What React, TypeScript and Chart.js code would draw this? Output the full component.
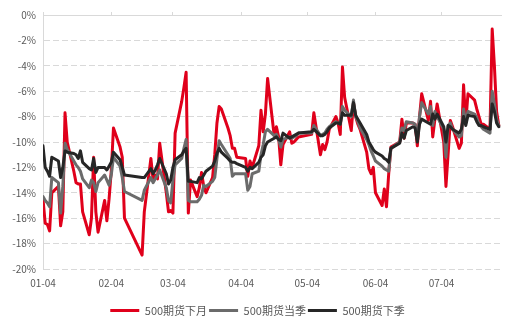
import React, { useEffect, useRef } from 'react';
import { Chart, registerables } from 'chart.js';

Chart.register(...registerables);

const YEAR = 2021;

// trading days (MM-DD), 2021
const tradeDates = [
  '01-04','01-05','01-06','01-07','01-08','01-11','01-12','01-13','01-14','01-15','01-18','01-19','01-20','01-21','01-22','01-25','01-26','01-27','01-28','01-29',
  '02-01','02-02','02-03','02-04','02-05','02-08','02-09','02-10','02-18','02-19','02-22','02-23','02-24','02-25','02-26',
  '03-01','03-02','03-03','03-04','03-05','03-08','03-09','03-10','03-11','03-12','03-15','03-16','03-17','03-18','03-19','03-22','03-23','03-24','03-25','03-26','03-29','03-30','03-31',
  '04-01','04-02','04-06','04-07','04-08','04-09','04-12','04-13','04-14','04-15','04-16','04-19','04-20','04-21','04-22','04-23','04-26','04-27','04-28','04-29','04-30',
  '05-06','05-07','05-10','05-11','05-12','05-13','05-14','05-17','05-18','05-19','05-20','05-21','05-24','05-25','05-26','05-27','05-28','05-31',
  '06-01','06-02','06-03','06-04','06-07','06-08','06-09','06-10','06-11','06-15','06-16','06-17','06-18','06-21','06-22','06-23','06-24','06-25','06-28','06-29','06-30',
  '07-01','07-02','07-05','07-06','07-07','07-08','07-09','07-12','07-13','07-14','07-15','07-16','07-19','07-20','07-21','07-22','07-23','07-26','07-27','07-28','07-29','07-30',
];

// 500期货下月 (%)
const nextMonth = [
  -14.5,-16.4,-16.5,-17.0,-14.0,-13.5,-16.6,-15.5,-7.7,-10.0,-12.3,-13.2,-13.3,-13.3,-15.5,-17.3,-16.0,-11.2,-15.5,-17.1,
  -14.6,-16.2,-14.5,-12.3,-8.9,-10.4,-11.2,-16.0,-18.9,-15.5,-11.3,-13.0,-12.6,-12.9,-10.1,
  -14.0,-15.5,-15.4,-15.6,-9.3,-6.8,-5.7,-4.5,-15.6,-13.0,-14.3,-13.6,-12.4,-13.5,-14.0,-12.8,-11.0,-8.5,-7.2,-7.4,-8.9,-9.5,-10.5,
  -10.5,-11.2,-11.3,-12.7,-11.5,-12.0,-10.3,-7.5,-9.2,-7.8,-5.0,-9.5,-8.8,-9.6,-11.8,-10.2,-9.2,-10.1,-10.0,-9.8,-9.6,
  -9.4,-7.7,-11.0,-10.2,-10.6,-10.0,-9.0,-8.0,-8.5,-9.4,-4.1,-6.5,-9.1,-6.9,-8.0,-8.6,-9.0,-10.8,
  -12.1,-12.5,-12.0,-14.0,-15.0,-13.7,-15.1,-12.5,-10.4,-10.0,-8.2,-9.7,-8.5,-8.5,-8.6,-10.3,-8.0,-6.2,-8.3,-6.8,-9.6,
  -8.2,-7.0,-10.0,-13.5,-10.9,-8.3,-8.8,-10.5,-10.1,-5.5,-8.5,-6.2,-6.7,-7.4,-8.0,-8.6,-8.6,-9.0,-1.1,-4.0,-7.6,-8.7,
];

// 500期货当季 (%)
const curQuarter = [
  -14.3,-14.6,-14.8,-15.1,-12.8,-13.2,-15.6,-13.5,-10.1,-10.6,-11.5,-11.8,-12.0,-12.3,-12.9,-13.6,-13.0,-13.2,-13.9,-13.2,
  -12.6,-13.0,-13.4,-12.6,-11.2,-11.9,-12.8,-13.9,-14.6,-13.8,-12.8,-13.2,-12.9,-12.6,-12.2,
  -13.6,-14.6,-14.8,-13.0,-11.8,-11.3,-10.5,-9.8,-14.6,-14.7,-14.7,-14.5,-14.2,-13.4,-13.5,-13.1,-12.8,-11.3,-9.9,-10.2,-11.0,-11.3,-12.7,
  -12.5,-12.5,-12.5,-13.8,-13.5,-12.5,-12.3,-11.0,-10.2,-9.2,-9.0,-9.5,-9.4,-9.8,-10.4,-9.8,-9.6,-9.7,-9.6,-9.5,-9.3,
  -9.3,-8.7,-9.5,-9.4,-9.3,-9.0,-8.8,-8.4,-8.5,-8.6,-7.2,-7.5,-8.0,-6.7,-8.0,-8.4,-8.9,-9.8,
  -10.2,-10.7,-11.1,-11.5,-11.9,-12.1,-12.2,-12.3,-10.5,-10.0,-8.9,-9.1,-8.4,-8.5,-8.6,-9.8,-8.0,-6.9,-7.8,-7.2,-8.7,
  -7.6,-8.0,-9.0,-11.2,-8.7,-8.5,-9.0,-9.6,-9.5,-7.4,-8.5,-7.6,-7.8,-8.1,-8.6,-8.8,-9.0,-9.3,-6.0,-7.0,-8.2,-8.7,
];

// 500期货下季 (%)
const nextQuarter = [
  -10.3,-12.0,-12.3,-12.7,-11.2,-11.5,-12.8,-12.0,-10.7,-10.8,-10.9,-11.0,-11.3,-10.7,-11.6,-12.1,-12.2,-11.3,-12.4,-12.0,
  -12.0,-12.2,-11.9,-11.6,-10.8,-11.4,-12.0,-12.6,-12.8,-12.8,-12.1,-12.5,-12.2,-11.8,-11.3,
  -12.5,-13.3,-13.0,-12.0,-11.4,-11.0,-10.7,-10.5,-13.1,-13.1,-13.2,-12.8,-12.9,-12.6,-12.3,-11.9,-11.5,-10.9,-10.5,-10.8,-11.3,-11.5,-11.6,
  -11.6,-11.7,-12.0,-12.3,-12.0,-12.1,-11.6,-11.2,-11.0,-10.3,-10.0,-9.7,-9.6,-9.8,-9.9,-9.3,-9.7,-9.6,-9.5,-9.4,-9.3,
  -9.2,-9.0,-9.5,-9.5,-9.4,-9.2,-8.9,-8.5,-8.5,-8.6,-7.7,-7.9,-7.9,-6.9,-7.9,-8.2,-8.5,-9.4,
  -10.0,-10.3,-10.6,-10.8,-11.1,-11.3,-11.4,-11.6,-10.5,-10.1,-9.3,-9.7,-9.1,-8.8,-8.9,-10.0,-8.6,-8.2,-8.5,-8.6,-7.8,
  -8.2,-7.8,-8.8,-10.0,-8.7,-8.8,-9.0,-9.3,-9.0,-8.0,-8.7,-7.9,-8.0,-8.4,-8.7,-8.7,-8.8,-9.0,-7.0,-7.6,-8.5,-8.8,
];

const seriesNames = ['500期货下月', '500期货当季', '500期货下季'];
const seriesColors = ['#e0001b', '#6b6b6b', '#262626'];

const xTickDates = ['01-04', '02-04', '03-04', '04-04', '05-04', '06-04', '07-04'];
const xStart = '01-04';
const xEnd = '07-31';
const yMin = -20;
const yMax = 0;
const yStep = 2;

const dayIndex = (mmdd: string) => {
  const [m, d] = mmdd.split('-').map(Number);
  return (Date.UTC(YEAR, m - 1, d) - Date.UTC(YEAR, 0, 4)) / 86400000;
};

const FONT = "'Noto Sans CJK SC', 'Noto Sans', sans-serif";
const TEXT = '#595959';
const GRID = '#d9d9d9';

export default function App() {
  const ref = useRef<HTMLCanvasElement | null>(null);

  useEffect(() => {
    document.body.style.margin = '0';
    const canvas = ref.current;
    if (!canvas) return;
    const seriesValues = [nextMonth, curQuarter, nextQuarter];
    const tickValues = xTickDates.map(dayIndex);
    const setTicks = (scale: any) => {
      scale.ticks = tickValues.map((v) => ({ value: v }));
    };
    const chart = new Chart(canvas, {
      type: 'line',
      data: {
        datasets: seriesValues.map((vals, i) => ({
          label: seriesNames[i],
          data: vals.map((v, j) => ({ x: dayIndex(tradeDates[j]), y: v })),
          borderColor: seriesColors[i],
          backgroundColor: seriesColors[i],
          borderWidth: 3,
          pointRadius: 0,
          tension: 0,
          borderJoinStyle: 'round' as const,
          borderCapStyle: 'round' as const,
          order: 3 - i,
        })),
      },
      options: {
        animation: false,
        responsive: false,
        events: [],
        layout: { padding: { left: 0, right: 0, top: 0, bottom: 3 } },
        plugins: {
          tooltip: { enabled: false },
          legend: {
            position: 'bottom',
            labels: {
              boxWidth: 29,
              boxHeight: 3,
              padding: 2,
              color: TEXT,
              font: { family: FONT, size: 11 },
              sort: (a: any, b: any) => a.datasetIndex - b.datasetIndex,
              generateLabels: (ch: any) =>
                ch.data.datasets.map((ds: any, i: number) => ({
                  text: ds.label,
                  fillStyle: ds.borderColor,
                  strokeStyle: ds.borderColor,
                  lineWidth: 0,
                  fontColor: TEXT,
                  datasetIndex: i,
                  hidden: false,
                })),
            },
          },
        },
        scales: {
          x: {
            type: 'linear',
            position: 'bottom',
            min: dayIndex(xStart),
            max: dayIndex(xEnd),
            afterBuildTicks: setTicks,
            afterFit: (s: any) => { s.height = 34; },
            grid: { display: false, drawTicks: false },
            border: { display: false },
            ticks: {
              padding: 8,
              color: TEXT,
              font: { family: FONT, size: 10 },
              maxRotation: 0,
              autoSkip: false,
              callback: (_v: any, i: number) => xTickDates[i],
            },
          },
          x2: {
            type: 'linear',
            axis: 'x',
            position: 'top',
            min: dayIndex(xStart),
            max: dayIndex(xEnd),
            afterBuildTicks: setTicks,
            afterFit: (s: any) => { s.height = 15; },
            grid: { drawOnChartArea: false, drawTicks: true, tickLength: 3, color: GRID },
            border: { display: true, color: GRID, width: 1 },
            ticks: { display: false },
          },
          y: {
            position: 'left',
            min: yMin,
            max: yMax,
            afterFit: (s: any) => { s.width = 43; },
            ticks: {
              stepSize: yStep,
              padding: 7,
              color: TEXT,
              font: { family: FONT, size: 10 },
              callback: (v: any) => `${v}%`,
            },
            grid: {
              drawTicks: false,
              color: (c: any) => (c.tick && c.tick.value === 0 ? 'rgba(0,0,0,0)' : GRID),
              lineWidth: 1,
            },
            border: { display: true, color: GRID, width: 1, dash: [6, 3] },
          },
          y2: {
            position: 'right',
            min: yMin,
            max: yMax,
            afterFit: (s: any) => { s.width = 14; },
            ticks: { display: false },
            grid: { display: false, drawTicks: false },
            border: { display: false },
          },
        },
      },
    } as any);
    return () => chart.destroy();
  }, []);

  return (
    <div style={{ width: 515, height: 329 }}>
      <canvas ref={ref} width={515} height={329} style={{ display: 'block' }} />
    </div>
  );
}
